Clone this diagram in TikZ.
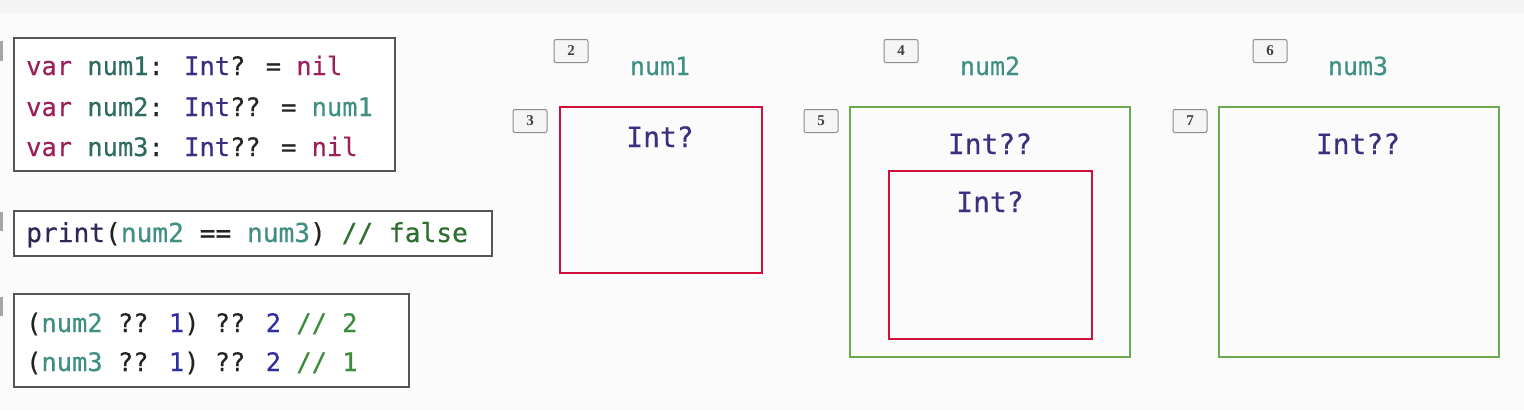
\documentclass[tikz,border=0pt]{standalone}
\usepackage{fontspec}
\newfontfamily\codefont[FakeBold=0.4]{DejaVu Sans Mono}
\setmainfont{Liberation Serif}
\definecolor{kw}{HTML}{9C1F5A}
\definecolor{idn}{HTML}{2D6A5F}
\definecolor{idl}{HTML}{3F8F82}
\definecolor{typ}{HTML}{3A2F80}
\definecolor{pln}{HTML}{222222}
\definecolor{fnc}{HTML}{2B2A55}
\definecolor{cmt}{HTML}{2E6E2E}
\definecolor{cml}{HTML}{3C8C3C}
\definecolor{lit}{HTML}{2F2DA0}
\definecolor{redbox}{HTML}{D0103A}
\definecolor{greenbox}{HTML}{6BAA4F}
\definecolor{codeborder}{HTML}{555555}
\definecolor{bg}{HTML}{FBFBFB}
\definecolor{topstrip}{HTML}{F4F4F4}
\tikzset{
  codeline/.style={anchor=base west, inner sep=0pt, text=pln, font=\codefont\fontsize{25.4}{30}\selectfont},
  codebox/.style={draw=codeborder, line width=1.8pt, fill=white},
  varlabel/.style={anchor=base, inner sep=0pt, text=idl, font=\codefont\fontsize{25}{30}\selectfont},
  typelabel/.style={anchor=base, inner sep=0pt, text=typ, font=\codefont\fontsize{28}{32}\selectfont},
  redframe/.style={draw=redbox, line width=2.4pt},
  greenframe/.style={draw=greenbox, line width=2pt},
  badge/.style={draw=black!45, fill=black!4, rounded corners=2pt, line width=1pt,
    minimum width=34pt, minimum height=23pt, inner sep=0pt, font=\fontsize{15}{16}\selectfont\bfseries, text=black!75},
}
\begin{document}
\begin{tikzpicture}[x=1pt,y=-1pt]
\useasboundingbox (0,0) rectangle (1524,410);
\fill[bg] (0,0) rectangle (1524,410);
\fill[topstrip] (0,0) rectangle (1524,13);
% cut-off badges at left edge
\fill[black!35] (0,41) rectangle (3,61);
\fill[black!35] (0,212) rectangle (3,231);
\fill[black!35] (0,297) rectangle (3,316);

% code box 1
\draw[codebox] (14,38) rectangle (395,171);
\node[codeline] (l1) at (26,75) {{\color{kw}var} {\color{idn}num1}: {\color{typ}Int}? = {\color{kw}nil}};
\node[codeline] (l2) at (26,116) {{\color{kw}var} {\color{idn}num2}: {\color{typ}Int}?? = {\color{idl}num1}};
\node[codeline] (l3) at (26,156) {{\color{kw}var} {\color{idn}num3}: {\color{typ}Int}?? = {\color{kw}nil}};

% code box 2
\draw[codebox] (14,211) rectangle (492,256);
\node[codeline, font=\codefont\fontsize{26.2}{30}\selectfont] (l4) at (26,242) {{\color{fnc}print}({\color{idl}num2} == {\color{idl}num3}) {\color{cmt}// false}};

% code box 3
\draw[codebox] (14,294) rectangle (409,387);
\node[codeline] (l5) at (26,332) {({\color{idl}num2} ?? {\color{lit}1}) ?? {\color{lit}2} {\color{cml}// 2}};
\node[codeline] (l6) at (26,371) {({\color{idl}num3} ?? {\color{lit}1}) ?? {\color{lit}2} {\color{cml}// 1}};

% num1
\node[badge] (b2) at (571,51) {2};
\node[varlabel] (n1) at (660,75) {num1};
\node[badge] (b3) at (530,121) {3};
\draw[redframe] (560,107) rectangle (762,273);
\node[typelabel] (t1) at (660,147) {Int?};

% num2
\node[badge] (b4) at (901,51) {4};
\node[varlabel] (n2) at (990,75) {num2};
\node[badge] (b5) at (821,121) {5};
\draw[greenframe] (850,107) rectangle (1130,357);
\node[typelabel] (t2) at (990,154) {Int??};
\draw[redframe] (889,171) rectangle (1092,339);
\node[typelabel] (t3) at (990,212) {Int?};

% num3
\node[badge] (b6) at (1270,51) {6};
\node[varlabel] (n3) at (1358,75) {num3};
\node[badge] (b7) at (1190,121) {7};
\draw[greenframe] (1219,107) rectangle (1499,357);
\node[typelabel] (t4) at (1358,154) {Int??};
\end{tikzpicture}
\end{document}
